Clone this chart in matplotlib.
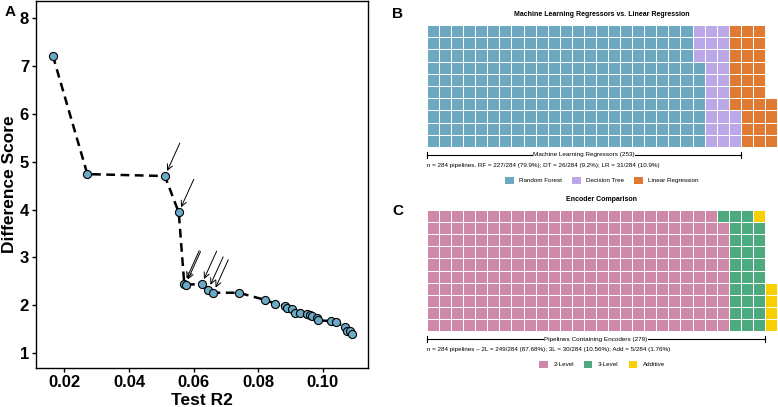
import numpy as np
import matplotlib
matplotlib.use("Agg")
import matplotlib.pyplot as plt
from matplotlib.patches import Rectangle, Patch

plt.rcParams['font.family'] = ['Liberation Sans', 'DejaVu Sans']

# ---------------------------------------------------------------------
# Panel A: test R2 vs difference score
# ---------------------------------------------------------------------
test_r2 = [0.0164, 0.0271, 0.0511, 0.0554, 0.0571, 0.0575, 0.0625, 0.0645,
           0.0661, 0.0740, 0.0821, 0.0853, 0.0883, 0.0890, 0.0905, 0.0913,
           0.0929, 0.0950, 0.0960, 0.0968, 0.0981, 0.0986, 0.1024, 0.1041,
           0.1068, 0.1074, 0.1084, 0.1091]
diff_score = [7.22, 4.74, 4.70, 3.94, 2.45, 2.43, 2.44, 2.32,
              2.26, 2.26, 2.11, 2.03, 1.98, 1.95, 1.91, 1.84,
              1.83, 1.82, 1.79, 1.77, 1.73, 1.68, 1.67, 1.65,
              1.54, 1.46, 1.45, 1.39]
arrow_idx = [2, 3, 4, 5, 6, 7, 8]   # points flagged with arrows

x_ticks = [0.02, 0.04, 0.06, 0.08, 0.10]
y_ticks = [1, 2, 3, 4, 5, 6, 7, 8]

# ---------------------------------------------------------------------
# Panel B: regressors waffle
# ---------------------------------------------------------------------
reg_labels = ['Random Forest', 'Decision Tree', 'Linear Regression']
reg_counts = [227, 26, 31]
reg_colors = ['#6CA8C0', '#BBA8E8', '#E07A32']

# ---------------------------------------------------------------------
# Panel C: encoders waffle
# ---------------------------------------------------------------------
enc_labels = ['2-Level', '3-Level', 'Additive']
enc_counts = [249, 30, 5]
enc_colors = ['#CF89A8', '#4CAA7E', '#F8D000']

W, H = 778, 407
fig = plt.figure(figsize=(W / 100, H / 100), dpi=100)


def px_box(x0, y0, x1, y1):
    """pixel box (top-left origin) -> figure fraction rect"""
    return [x0 / W, 1 - y1 / H, (x1 - x0) / W, (y1 - y0) / H]


# ---------------- panel A ----------------
ax = fig.add_axes(px_box(36, 1, 368, 368))
ax.plot(test_r2, diff_score, color='black', lw=1.8, ls=(0, (3.5, 2.2)), zorder=2)
ax.scatter(test_r2, diff_score, s=34, color='#6AAAC6', edgecolor='black',
           lw=0.8, zorder=3)
for i in arrow_idx:
    ax.annotate('', xy=(test_r2[i], diff_score[i]), xytext=(15, 33),
                textcoords='offset pixels',
                arrowprops=dict(arrowstyle='->', lw=0.7, color='black',
                                shrinkA=0, shrinkB=4, mutation_scale=10))
ax.set_xlim(0.0112, 0.114)
ax.set_ylim(0.686, 8.36)
ax.set_xticks(x_ticks)
ax.set_xticklabels([f'{v:.2f}' for v in x_ticks])
ax.set_yticks(y_ticks)
ax.tick_params(labelsize=12, length=3, width=1, pad=2)
for lab in ax.get_xticklabels() + ax.get_yticklabels():
    lab.set_fontweight('bold')
ax.set_xlabel('Test R2', fontsize=12.5, fontweight='bold')
ax.xaxis.set_label_coords(0.5, -0.068)
ax.set_ylabel('Difference Score', fontsize=12.5, fontweight='bold')
ax.yaxis.set_label_coords(-0.058, 0.5)
for s in ax.spines.values():
    s.set_linewidth(1)
fig.text(10 / W, 1 - 12 / H, 'A', fontsize=11, fontweight='bold',
         ha='center', va='center')


# ---------------- waffles ----------------
def waffle(ax, counts, colors, nrows=10):
    cats = np.repeat(np.arange(len(counts)), counts)
    ncols = int(np.ceil(len(cats) / nrows))
    for i, k in enumerate(cats):
        col, row = divmod(i, nrows)
        ax.add_patch(Rectangle((col, row), 1, 1, facecolor=colors[k],
                               edgecolor='white', lw=0.7))
    ax.set_xlim(0, ncols)
    ax.set_ylim(0, nrows)
    ax.axis('off')
    return ncols


def bracket(ax, n, label, y):
    xe = int(np.ceil(n / 10))
    ax.plot([0, xe], [y, y], color='black', lw=0.8, clip_on=False)
    for xx in (0, xe):
        ax.plot([xx, xx], [y - 0.25, y + 0.25], color='black', lw=0.8,
                clip_on=False)
    ax.text(xe / 2, y, label, ha='center', va='center', fontsize=4.6,
            bbox=dict(facecolor='white', edgecolor='none', pad=0.3))


def legend(ax, labels, colors, xc):
    handles = [Patch(facecolor=c, edgecolor='none', label=l)
               for l, c in zip(labels, colors)]
    ax.legend(handles=handles, loc='center', bbox_to_anchor=(xc, -2.73),
              bbox_transform=ax.transData, ncol=3, frameon=False,
              fontsize=4.5, handlelength=1.35, handleheight=1.35,
              columnspacing=1.6, handletextpad=0.9, borderpad=0)


# panel B
axb = fig.add_axes(px_box(427, 25, 777, 147))
nc = waffle(axb, reg_counts, reg_colors)
axb.text(nc / 2, 10.9, 'Machine Learning Regressors vs. Linear Regression',
         ha='center', va='center', fontsize=5, fontweight='bold')
bracket(axb, reg_counts[0] + reg_counts[1],
        f'Machine Learning Regressors ({reg_counts[0] + reg_counts[1]})', -0.62)
nb = sum(reg_counts)
axb.text(0, -1.48,
         f'n = {nb} pipelines. RF = {reg_counts[0]}/{nb} ({100 * reg_counts[0] / nb:.1f}%); '
         f'DT = {reg_counts[1]}/{nb} ({100 * reg_counts[1] / nb:.1f}%); '
         f'LR = {reg_counts[2]}/{nb} ({100 * reg_counts[2] / nb:.1f}%)',
         ha='left', va='center', fontsize=4.5)
legend(axb, reg_labels, reg_colors, nc / 2)
fig.text(398 / W, 1 - 14 / H, 'B', fontsize=11, fontweight='bold',
         ha='center', va='center')

# panel C
axc = fig.add_axes(px_box(427, 210, 777, 331))
nc = waffle(axc, enc_counts, enc_colors)
axc.text(nc / 2, 10.9, 'Encoder Comparison', ha='center', va='center',
         fontsize=5, fontweight='bold')
bracket(axc, enc_counts[0] + enc_counts[1],
        f'Pipelines Containing Encoders ({enc_counts[0] + enc_counts[1]})', -0.69)
ne = sum(enc_counts)
axc.text(0, -1.49,
         f'n = {ne} pipelines \u2013 2L = {enc_counts[0]}/{ne} ({100 * enc_counts[0] / ne:.2f}%); '
         f'3L = {enc_counts[1]}/{ne} ({100 * enc_counts[1] / ne:.2f}%); '
         f'Add = {enc_counts[2]}/{ne} ({100 * enc_counts[2] / ne:.2f}%)',
         ha='left', va='center', fontsize=4.5)
legend(axc, enc_labels, enc_colors, nc / 2)
fig.text(398 / W, 1 - 211 / H, 'C', fontsize=11, fontweight='bold',
         ha='center', va='center')

fig.savefig('out.png', dpi=100)
